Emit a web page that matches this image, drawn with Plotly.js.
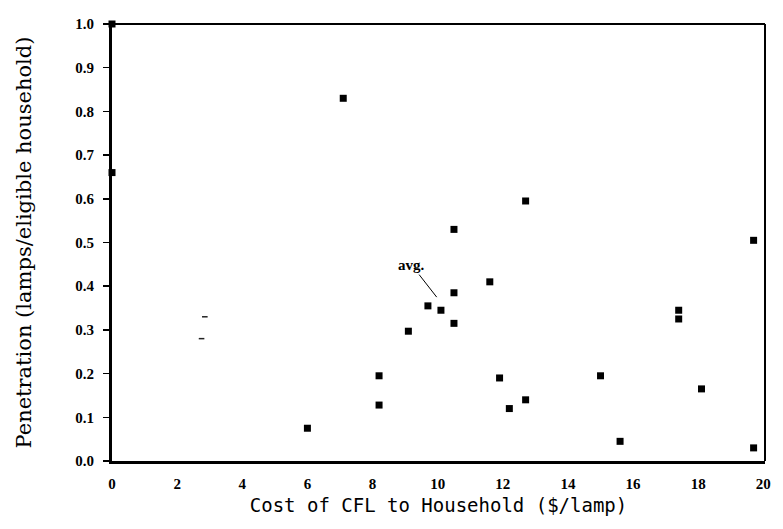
<!DOCTYPE html>
<html>
<head>
<meta charset="utf-8">
<script src="https://cdn.plot.ly/plotly-3.0.1.min.js"></script>
<style>html,body{margin:0;padding:0;background:#fff;}</style>
</head>
<body>
<div id="chart" style="width:783px;height:529px;"></div>
<script>
// Cost of CFL to household ($/lamp)
const costX = [0, 0, 7.1, 10.5, 12.7, 11.6, 10.5, 9.7, 10.1, 10.5, 9.1, 8.2, 8.2, 6.0, 11.9, 12.2, 12.7, 15.0, 15.6, 17.4, 17.4, 18.1, 19.7, 19.7];
// Penetration (lamps / eligible household)
const penetrationY = [1.0, 0.66, 0.83, 0.53, 0.595, 0.41, 0.385, 0.355, 0.345, 0.315, 0.297, 0.195, 0.128, 0.075, 0.19, 0.12, 0.14, 0.195, 0.045, 0.345, 0.325, 0.165, 0.505, 0.03];
// faint dash marks
const dashX = [2.85, 2.75];
const dashY = [0.33, 0.28];
const xTicks = [0, 2, 4, 6, 8, 10, 12, 14, 16, 18, 20];
const yTicks = [0.0, 0.1, 0.2, 0.3, 0.4, 0.5, 0.6, 0.7, 0.8, 0.9, 1.0];

const traces = [
  {
    x: costX, y: penetrationY, type: 'scatter', mode: 'markers',
    marker: {symbol: 'square', size: 7, color: '#000'},
    cliponaxis: false, hoverinfo: 'x+y'
  },
  {
    x: dashX, y: dashY, type: 'scatter', mode: 'markers',
    marker: {symbol: 'line-ew', size: 4, line: {width: 1.5, color: '#222'}},
    cliponaxis: false, hoverinfo: 'skip'
  }
];

const serif = 'DejaVu Serif, Liberation Serif, serif';
const layout = {
  width: 783, height: 529,
  margin: {l: 112, r: 18, t: 24, b: 68},
  paper_bgcolor: '#fff', plot_bgcolor: '#fff',
  showlegend: false,
  xaxis: {
    range: [0, 20.05], tickvals: xTicks, ticktext: xTicks.map(String),
    showgrid: false, zeroline: false, showline: true, linewidth: 3, linecolor: '#000',
    ticks: '', ticklabelstandoff: 7,
    tickfont: {family: 'Liberation Serif, serif', size: 15, color: '#000', weight: 'bold'},
    title: {text: 'Cost of CFL to Household ($/lamp)', standoff: 8,
            font: {family: 'DejaVu Sans Mono, Liberation Mono, monospace', size: 19, color: '#000'}}
  },
  yaxis: {
    range: [0, 1.0], tickvals: yTicks, ticktext: yTicks.map(v => v.toFixed(1)),
    showgrid: false, zeroline: false, showline: true, linewidth: 3, linecolor: '#000',
    ticks: 'outside', ticklen: 6, tickwidth: 1.5, tickcolor: '#000', ticklabelstandoff: 6,
    tickfont: {family: 'Liberation Serif, serif', size: 15, color: '#000', weight: 'bold'},
    title: {text: 'Penetration (lamps/eligible household)', standoff: 38,
            font: {family: serif, size: 21, color: '#000'}}
  },
  shapes: [
    {type: 'line', xref: 'paper', yref: 'paper', x0: 0, x1: 1, y0: 1, y1: 1, line: {color: '#000', width: 2}},
    {type: 'line', xref: 'paper', yref: 'paper', x0: 1, x1: 1, y0: 0, y1: 1, line: {color: '#000', width: 2}}
  ],
  annotations: [
    {x: 9.97, y: 0.375, xref: 'x', yref: 'y', text: 'avg.', showarrow: true,
     arrowhead: 0, arrowwidth: 1, arrowcolor: '#000', ax: -25, ay: -32, standoff: 0,
     font: {family: 'Liberation Serif, serif', size: 15, color: '#000', weight: 'bold'}}
  ]
};

Plotly.newPlot('chart', traces, layout, {displayModeBar: false, staticPlot: true});
</script>
</body>
</html>
